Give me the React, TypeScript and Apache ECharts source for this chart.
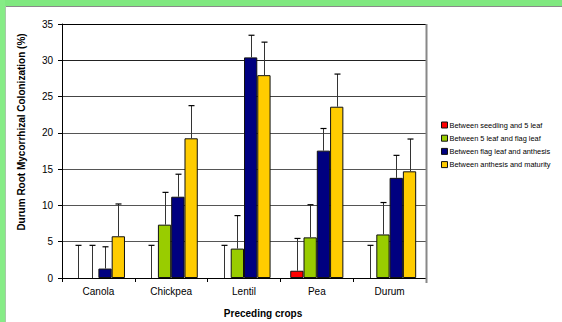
import React, { useEffect, useRef } from "react";
import * as echarts from "echarts";

const categories = ["Canola", "Chickpea", "Lentil", "Pea", "Durum"];
const seriesNames = [
  "Between seedling and 5 leaf",
  "Between 5 leaf and flag leaf",
  "Between flag leaf and anthesis",
  "Between anthesis and maturity",
];
const seedlingTo5Leaf = [0, 0, 0, 1.0, 0];
const fiveLeafToFlag = [0, 7.35, 4.05, 5.6, 6.0];
const flagToAnthesis = [1.3, 11.2, 30.4, 17.55, 13.8];
const anthesisToMaturity = [5.75, 19.25, 27.95, 23.6, 14.7];
const seedlingErr = [4.5, 4.5, 4.5, 4.45, 4.5];
const fiveLeafErr = [4.5, 4.45, 4.55, 4.5, 4.4];
const flagErr = [3.0, 3.1, 3.05, 3.05, 3.1];
const anthesisErr = [4.45, 4.5, 4.55, 4.5, 4.45];
const yTicks = { min: 0, max: 35, interval: 5 };

const colors = ["#FF0000", "#99CC00", "#000080", "#FFCC00"];
const FONT = "Liberation Sans, Arial, sans-serif";
const CAT_GAP = 0.27;

export default function App() {
  const ref = useRef<HTMLDivElement>(null);
  useEffect(() => {
    if (!ref.current) return;
    const chart = echarts.init(ref.current, undefined, { renderer: "svg" });
    const values = [seedlingTo5Leaf, fiveLeafToFlag, flagToAnthesis, anthesisToMaturity];
    const errs = [seedlingErr, fiveLeafErr, flagErr, anthesisErr];
    const errData: number[][] = [];
    values.forEach((arr, s) => {
      arr.forEach((v, c) => {
        errData.push([c, v, v + errs[s][c], s]);
      });
    });
    const barSeries = values.map((arr, i) => ({
      name: seriesNames[i],
      type: "bar",
      data: arr.map((v) =>
        v === 0 ? { value: v, itemStyle: { borderWidth: 0 } } : v
      ),
      barGap: "0%",
      barCategoryGap: CAT_GAP * 100 + "%",
      itemStyle: { color: colors[i], borderColor: "#111", borderWidth: 1 },
      z: 2,
    }));
    chart.setOption({
      animation: false,
      backgroundColor: "#ffffff",
      textStyle: { fontFamily: FONT },
      grid: { left: 62, top: 24, right: 136, bottom: 44, containLabel: false },
      legend: {
        orient: "vertical",
        left: 441,
        top: 121.5,
        itemWidth: 6,
        itemHeight: 6,
        itemGap: 6.2,
        icon: "rect",
        padding: 0,
        textStyle: {
          fontSize: 7.4,
          lineHeight: 6,
          color: "#000",
          fontFamily: FONT,
          padding: [0, 0, 0, -3],
        },
        itemStyle: { borderColor: "#111", borderWidth: 1 },
        data: seriesNames,
      },
      xAxis: {
        type: "category",
        data: categories,
        axisLine: { lineStyle: { color: "#000", width: 1 } },
        axisTick: { show: true, length: 4, lineStyle: { color: "#000" } },
        axisLabel: { fontSize: 10, color: "#000", margin: 8, fontFamily: FONT },
        splitLine: { show: false },
      },
      yAxis: {
        type: "value",
        min: yTicks.min,
        max: yTicks.max,
        interval: yTicks.interval,
        axisLine: { show: true, lineStyle: { color: "#000", width: 1 } },
        axisTick: { show: true, length: 4, lineStyle: { color: "#000" } },
        axisLabel: { fontSize: 10, color: "#000", margin: 9, fontFamily: FONT },
        splitLine: {
          show: true,
          lineStyle: {
            color: ["#555", "#555", "#555", "#555", "#555", "#444", "#222", "#000"],
            width: 1,
          },
        },
      },
      series: [
        ...barSeries,
        {
          type: "custom",
          z: 5,
          silent: true,
          encode: { x: 0, y: 1 },
          data: errData,
          renderItem: (params: any, api: any) => {
            const c = api.value(0);
            const v = api.value(1);
            const top = api.value(2);
            const s = api.value(3);
            const base = api.coord([c, v]);
            const hi = api.coord([c, top]);
            const band = api.size([1, 0])[0];
            const bw = (band * (1 - CAT_GAP)) / 4;
            const x = Math.round(base[0] + (s - 1.5) * bw) + 0.5;
            return {
              type: "group",
              children: [
                {
                  type: "line",
                  shape: { x1: x, y1: base[1], x2: x, y2: hi[1] },
                  style: { stroke: "#333", lineWidth: 1 },
                },
                {
                  type: "line",
                  shape: { x1: x - 3, y1: hi[1], x2: x + 3, y2: hi[1] },
                  style: { stroke: "#000", lineWidth: 1.2 },
                },
              ],
            };
          },
        },
      ],
      graphic: [
        { type: "rect", shape: { x: 0, y: 0, width: 562, height: 6 }, style: { fill: "#80E880" }, silent: true },
        { type: "rect", shape: { x: 0, y: 0, width: 5, height: 322 }, style: { fill: "#86EC86" }, silent: true },
        { type: "line", shape: { x1: 5, y1: 6.5, x2: 562, y2: 6.5 }, style: { stroke: "#8a8a8a", lineWidth: 1 }, silent: true },
        { type: "line", shape: { x1: 5.5, y1: 6, x2: 5.5, y2: 322 }, style: { stroke: "#a8c8a8", lineWidth: 1 }, silent: true },
        { type: "line", shape: { x1: 426.5, y1: 24, x2: 426.5, y2: 283 }, style: { stroke: "#888", lineWidth: 2 }, silent: true, z: 10 },
        {
          type: "text",
          x: 21,
          y: 132,
          rotation: Math.PI / 2,
          style: {
            text: "Durum Root Mycorrhizal Colonization (%)",
            fontSize: 10,
            fontWeight: "bold",
            fontFamily: FONT,
            fill: "#000",
            textAlign: "center",
            textVerticalAlign: "middle",
          },
        },
        {
          type: "text",
          x: 263,
          y: 313,
          style: {
            text: "Preceding crops",
            fontSize: 10,
            fontWeight: "bold",
            fontFamily: FONT,
            fill: "#000",
            textAlign: "center",
            textVerticalAlign: "middle",
          },
        },
      ],
    });
    return () => chart.dispose();
  }, []);
  return (
    <div
      ref={ref}
      style={{ position: "absolute", left: 0, top: 0, width: 562, height: 322 }}
    />
  );
}
